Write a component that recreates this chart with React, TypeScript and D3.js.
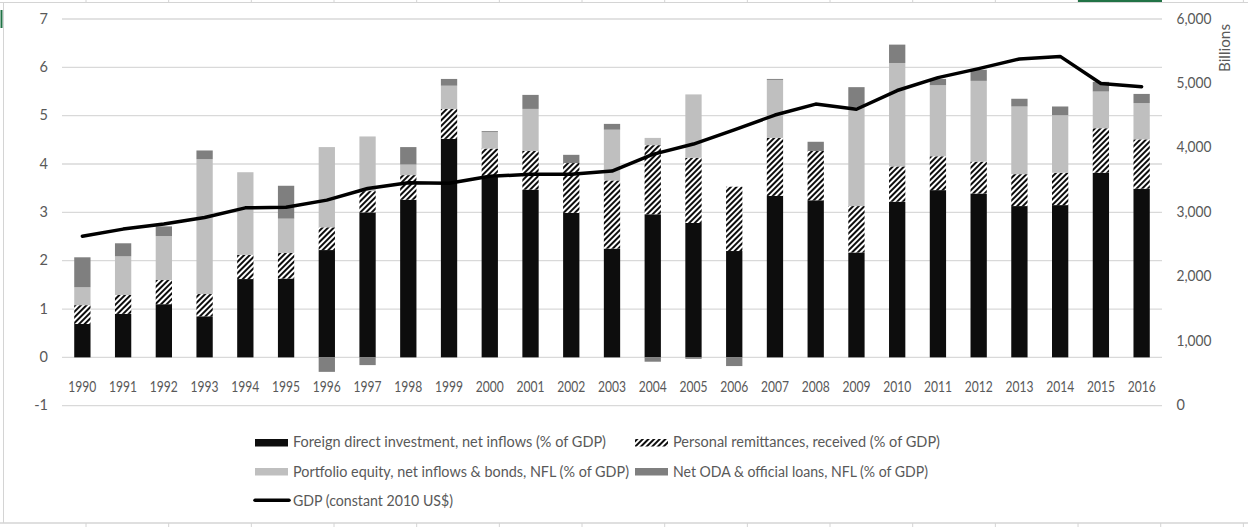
import React from "react";
import * as d3 from "d3";

const years = ["1990","1991","1992","1993","1994","1995","1996","1997","1998","1999","2000","2001","2002","2003","2004","2005","2006","2007","2008","2009","2010","2011","2012","2013","2014","2015","2016"];
const fdi = [0.69,0.90,1.10,0.85,1.62,1.63,2.22,3.00,3.26,4.52,3.73,3.47,2.99,2.25,2.96,2.78,2.20,3.34,3.25,2.17,3.22,3.46,3.39,3.13,3.15,3.82,3.49];
const remittances = [0.39,0.39,0.50,0.46,0.50,0.53,0.47,0.44,0.51,0.62,0.59,0.80,1.03,1.41,1.43,1.35,1.33,1.20,1.02,0.96,0.73,0.70,0.66,0.66,0.67,0.92,1.02];
const portfolio = [0.37,0.80,0.91,2.79,1.71,0.71,1.66,1.13,0.22,0.48,0.34,0.87,0,1.05,0.15,1.31,0,1.20,0,2.05,2.14,1.47,1.67,1.40,1.19,0.76,0.75];
const oda = [0.62,0.27,0.20,0.18,0,0.68,-0.30,-0.16,0.36,0.14,0.02,0.29,0.17,0.12,-0.09,-0.03,-0.18,0.02,0.19,0.41,0.38,0.13,0.23,0.16,0.18,0.20,0.19];
const gdpBillions = [2630,2740,2820,2920,3070,3080,3190,3370,3460,3450,3560,3590,3590,3640,3900,4060,4280,4510,4680,4600,4890,5090,5230,5380,5420,5000,4950];

const leftTicks = [-1,0,1,2,3,4,5,6,7];
const rightTicks = [0,1000,2000,3000,4000,5000,6000];

const seriesKeys = ["fdi","remit","portfolio","oda"];
const seriesNames = [
  "Foreign direct investment, net inflows (% of GDP)",
  "Personal remittances, received (% of GDP)",
  "Portfolio equity, net inflows & bonds, NFL (% of GDP)",
  "Net ODA & official loans, NFL (% of GDP)",
];
const lineName = "GDP (constant 2010 US$)";

const W = 1248, H = 527;
const FONT = "Lato, 'Open Sans', sans-serif";
const TXT = "#595959";

export default function App() {
  const x = d3.scaleBand<string>().domain(years).range([62, 1162]).paddingInner(0.6).paddingOuter(0.3);
  const yL = d3.scaleLinear().domain([-1, 7]).range([405.7, 19]);
  const yR = d3.scaleLinear().domain([0, 6000]).range([405.7, 19]);

  const rows = years.map((yr, i) => ({ year: yr, fdi: fdi[i], remit: remittances[i], portfolio: portfolio[i], oda: oda[i] }));
  const stacked = d3.stack<any>().keys(seriesKeys).offset(d3.stackOffsetDiverging)(rows);
  const fills = ["#0d0d0d", "url(#hatch)", "#bfbfbf", "#7f7f7f"];

  const line = d3.line<number>()
    .x((_, i) => (x(years[i]) as number) + x.bandwidth() / 2)
    .y((d) => yR(d));

  const colLines = d3.range(0, 16).map((i) => 86 + i * 82.67);

  const legend = [
    { x: 255, tx: 293, y: 439, by: 447.3, fill: fills[0], label: seriesNames[0], tl: 313 },
    { x: 635, tx: 673, y: 439, by: 447.3, fill: fills[1], label: seriesNames[1], tl: 267 },
    { x: 255, tx: 293, y: 468, by: 476.5, fill: fills[2], label: seriesNames[2], tl: 336 },
    { x: 635, tx: 673, y: 468, by: 476.5, fill: fills[3], label: seriesNames[3], tl: 255 },
  ];

  return (
    <div style={{ position: "fixed", left: 0, top: 0, width: W, height: H, background: "#fff" }}>
      <svg width={W} height={H} style={{ display: "block" }}>
        <defs>
          <pattern id="hatch" patternUnits="userSpaceOnUse" width={4} height={4} patternTransform="rotate(45)">
            <rect x={0} y={0} width={4} height={4} fill="#ffffff" />
            <rect x={0} y={0} width={2} height={4} fill="#0d0d0d" />
          </pattern>
        </defs>
        {/* spreadsheet background */}
        <line x1={0} x2={W} y1={2.5} y2={2.5} stroke="#d4d4d4" strokeWidth={1} />
        {colLines.map((cx, i) => (
          <line key={"t" + i} x1={cx} x2={cx} y1={0} y2={2.5} stroke="#d4d4d4" />
        ))}
        <line x1={1078} x2={1162} y1={1} y2={1} stroke="#217346" strokeWidth={2} />
        <line x1={3.5} x2={3.5} y1={2.5} y2={523} stroke="#d4d4d4" strokeWidth={1} />
        <line x1={1.5} x2={1.5} y1={10} y2={28} stroke="#217346" strokeWidth={2} />
        <line x1={0} x2={W} y1={523} y2={523} stroke="#d4d4d4" strokeWidth={1.5} />
        {colLines.map((cx, i) => (
          <line key={"b" + i} x1={cx} x2={cx} y1={523} y2={H} stroke="#d4d4d4" />
        ))}

        {/* gridlines */}
        {leftTicks.map((t) => (
          <line key={"g" + t} x1={62} x2={1162} y1={yL(t)} y2={yL(t)} stroke="#d9d9d9" strokeWidth={1.3} />
        ))}

        {/* bars */}
        {stacked.map((s, si) => (
          <g key={s.key} fill={fills[si]}>
            {s.map((d: any, i: number) => {
              const y0 = yL(d[0]), y1 = yL(d[1]);
              const h = Math.abs(y0 - y1);
              if (h < 0.01) return null;
              return <rect key={i} x={x(years[i])} width={x.bandwidth()} y={Math.min(y0, y1)} height={h} />;
            })}
          </g>
        ))}

        {/* GDP line */}
        <path d={line(gdpBillions) as string} fill="none" stroke="#000" strokeWidth={3.5} strokeLinejoin="round" strokeLinecap="round" />

        {/* category labels */}
        {years.map((yr) => (
          <text key={yr} x={(x(yr) as number) + x.bandwidth() / 2} y={391.7} textAnchor="middle" fontFamily={FONT} fontSize={14.5} fill={TXT} textLength={28} lengthAdjust="spacingAndGlyphs">{yr}</text>
        ))}

        {/* left axis */}
        {leftTicks.map((t) => (
          <text key={"l" + t} x={48} y={yL(t) + 4.5} textAnchor="end" fontFamily={FONT} fontSize={14.5} fill={TXT}>{t}</text>
        ))}

        {/* right axis */}
        {rightTicks.map((t) => {
          const s = d3.format(",")(t);
          return (
            <text key={"r" + t} x={1176.5} y={yR(t) + 4.5} textAnchor="start" fontFamily={FONT} fontSize={14.5} fill={TXT}
              textLength={s.length > 1 ? 35 : undefined} lengthAdjust="spacingAndGlyphs">{s}</text>
          );
        })}
        <text transform="translate(1230,48) rotate(-90)" textAnchor="middle" fontFamily={FONT} fontSize={14.5} fill={TXT} textLength={48} lengthAdjust="spacingAndGlyphs">Billions</text>

        {/* legend */}
        {legend.map((l, i) => (
          <g key={"lg" + i}>
            <rect x={l.x} y={l.y} width={33} height={7.5} fill={l.fill} />
            <text x={l.tx} y={l.by} fontFamily={FONT} fontSize={14.5} fill={TXT} textLength={l.tl} lengthAdjust="spacingAndGlyphs">{l.label}</text>
          </g>
        ))}
        <line x1={255} x2={289} y1={500.3} y2={500.3} stroke="#000" strokeWidth={3.5} strokeLinecap="round" />
        <text x={293} y={506} fontFamily={FONT} fontSize={14.5} fill={TXT} textLength={160} lengthAdjust="spacingAndGlyphs">{lineName}</text>
      </svg>
    </div>
  );
}
